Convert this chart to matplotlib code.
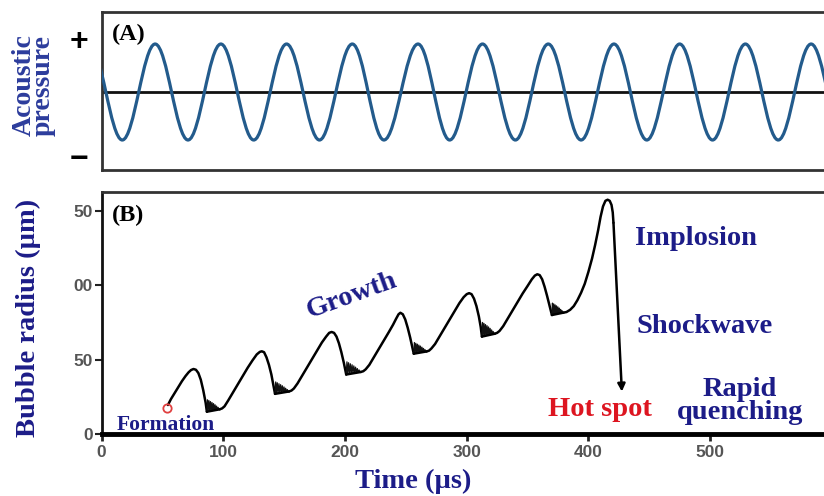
import matplotlib
matplotlib.use("Agg")
import matplotlib.pyplot as plt
from matplotlib.path import Path
from matplotlib.patches import PathPatch

# ---------------------------------------------------------------- data
# (A) acoustic driving pressure: times (µs) of the pressure maxima and minima
pressure_peak_t = [-10, 44, 98, 152, 206, 260, 313, 367, 421, 475, 529, 583]
pressure_trough_t = [17, 71, 125, 179, 232, 286, 340, 394, 448, 502, 556, 610]

# (B) bubble radius (µm) versus time (µs), one list per growth/compression cycle
cycle_t = [
    [54.5, 57, 60, 63, 66, 69, 71.5, 73.5, 75.5, 77.5, 79.5, 81.5, 83.5, 85.5, 86.5],
    [97, 99, 101, 104, 108, 112, 116, 120, 124, 127.5, 130, 131.6, 133.5, 135.5, 137.5, 139.5, 141, 142.5],
    [154, 156, 158, 161, 165, 169, 173, 177, 181, 184.5, 187, 189, 191, 193, 195, 197, 199, 201],
    [213, 215, 217, 220, 224, 228, 232, 236, 239.5, 242, 244, 245.5, 247.5, 249.5, 251.5, 253.5, 255, 256.5],
    [267, 269, 271, 274, 278, 282, 286, 290, 294, 297.5, 300, 302, 304, 306, 308, 310, 311.5, 312.5],
    [323, 325, 327, 330, 334, 338, 342, 346, 350, 353.5, 356, 358, 360, 362, 364, 366, 368, 370],
    [379.5, 382, 385, 388, 391, 394, 397, 400, 403, 405.5, 408, 410, 412, 414, 415.8, 417.5, 419, 420, 420.6],
]
cycle_r = [
    [19.5, 23.5, 27.5, 31.5, 35.5, 39, 41.5, 43, 43.7, 43.2, 41, 36.5, 29.5, 21, 15],
    [16.6, 17.2, 18.6, 22.5, 28, 33.5, 39, 44.5, 49.5, 53.5, 55.2, 55.6, 55, 51.5, 46.5, 40, 33.5, 27],
    [28.6, 29.2, 30.6, 34, 39.5, 45, 50.5, 56, 61.5, 65.5, 68, 68.6, 68, 65.5, 61, 55, 48, 40],
    [41.7, 42.2, 43.5, 46.5, 52, 57.5, 63, 68.5, 73.5, 77.5, 80.5, 81.5, 80.5, 77, 71.5, 65, 59.5, 54],
    [55.5, 56, 57.5, 60.5, 66, 71.5, 77, 82.5, 88, 92, 94, 94.7, 94, 91, 86, 79, 72, 65.5],
    [67.4, 68, 69.3, 72.5, 78, 83.5, 89, 94.5, 99.5, 104, 106.5, 107.4, 106.8, 104, 99, 93, 86.5, 80],
    [81.6, 82, 83.5, 86, 90, 95, 101, 109, 118, 127, 137, 146, 153, 156.8, 157.5, 156.8, 154, 149, 142],
]

# after-bounce ringing at each minimum: start time, floor radius, duration, height
ring_start_t = [86.5, 142.5, 201, 256.5, 312.5, 370]
ring_floor_r = [15, 27, 40, 54, 65.5, 80]
ring_width = [10.5, 11.5, 12, 10.5, 10.5, 9.5]
ring_height = [8, 8, 8.5, 7.5, 9.5, 8]
# shape of the decaying ringing (fraction of duration, fraction of height)
ring_shape_t = [0, .05, .10, .16, .22, .28, .34, .40, .46, .52, .58, .64, .70, .76, .82, .88, .94, 1.0]
ring_shape_r = [0, 1, .03, .93, .06, .85, .09, .77, .11, .68, .13, .58, .15, .47, .17, .36, .19, .2]

# final collapse: end of the trace (µs, µm)
collapse_t = 427.5
collapse_r = 28.5

# bubble nucleation point
formation_t = 53.5
formation_r = 17.3

x_ticks = [0, 100, 200, 300, 400, 500]
y_ticks = [0, 50, 100, 150]
y_tick_labels = ["0", "50", "00", "50"]

# ---------------------------------------------------------------- figure
W, H = 824, 496
fig = plt.figure(figsize=(W / 100, H / 100), dpi=100)
fig.patch.set_facecolor("white")

SERIF = ["Liberation Serif", "DejaVu Serif"]
SANS = ["Liberation Sans", "DejaVu Sans"]
NAVY = "#1c1c88"
BLUE_LABEL = "#2c3c9c"
WAVE = "#235b8c"


def fx(x):
    return x / W


def fy(y):
    return 1 - y / H


x0 = 101.6
px_per_us = 1.217
xmax = 600
ax_w = xmax * px_per_us

# panel A
axA = fig.add_axes([fx(x0), fy(170), ax_w / W, (170 - 12) / H])
axA.set_xlim(0, xmax)
axA.set_ylim(-1.625, 1.667)
axA.set_xticks([])
axA.set_yticks([])
for s in axA.spines.values():
    s.set_linewidth(2.0)
    s.set_color("#333333")
axA.axhline(0, color="#111111", lw=2.0, zorder=2)

ext = sorted([(t, 1.0) for t in pressure_peak_t] + [(t, -1.0) for t in pressure_trough_t])
k = 0.364
verts = [ext[0]]
codes = [Path.MOVETO]
for (ta, va), (tb, vb) in zip(ext[:-1], ext[1:]):
    d = tb - ta
    verts += [(ta + k * d, va), (tb - k * d, vb), (tb, vb)]
    codes += [Path.CURVE4] * 3
axA.add_patch(PathPatch(Path(verts, codes), fill=False, edgecolor=WAVE, lw=2.3,
                        zorder=3, capstyle="round"))

# panel B
axB = fig.add_axes([fx(x0), fy(434), ax_w / W, (434 - 192) / H])
axB.set_xlim(0, xmax)
axB.set_ylim(0, 162.7)

for i in range(len(cycle_t)):
    axB.plot(cycle_t[i], cycle_r[i], color="black", lw=1.8,
             solid_joinstyle="round", solid_capstyle="round", zorder=3)
for i in range(len(ring_start_t)):
    rt = [ring_start_t[i] + f * ring_width[i] for f in ring_shape_t]
    rr = [ring_floor_r[i] + f * ring_height[i] for f in ring_shape_r]
    axB.plot(rt, rr, color="#111111", lw=0.9, zorder=3)
    # smooth floor underneath the ringing
    axB.plot([rt[0], rt[-1]], [rr[0], cycle_r[i + 1][0]], color="black", lw=1.8,
             solid_capstyle="round", zorder=3)

axB.annotate("", xy=(collapse_t, collapse_r), xytext=(cycle_t[-1][-1], cycle_r[-1][-1]),
             arrowprops=dict(arrowstyle="-|>", lw=1.8, color="black",
                             mutation_scale=11, shrinkA=0, shrinkB=0), zorder=3)
axB.plot([formation_t], [formation_r], marker="o", ms=6, mfc="none", mec="#e04040",
         mew=1.3, zorder=4)

axB.set_xticks(x_ticks)
axB.set_yticks(y_ticks)
axB.set_yticklabels(y_tick_labels)
for lab in axB.get_xticklabels() + axB.get_yticklabels():
    lab.set_fontfamily(SANS)
    lab.set_fontweight("bold")
    lab.set_fontsize(12.5)
    lab.set_color("#555555")
axB.tick_params(axis="y", direction="out", length=5, width=1.5, pad=1.5, color="#222222")
axB.tick_params(axis="x", direction="out", length=5, width=2, pad=3, color="#222222")
axB.spines["left"].set_linewidth(2.0)
axB.spines["left"].set_color("#111111")
axB.spines["bottom"].set_linewidth(3.5)
axB.spines["bottom"].set_color("black")
axB.spines["top"].set_linewidth(2.0)
axB.spines["top"].set_color("#333333")
axB.spines["right"].set_visible(False)


def label(x, y, s, size, color=NAVY, ha="center", va="baseline", rot=0, weight="bold", **kw):
    fig.text(fx(x), fy(y), s, fontsize=size, color=color, ha=ha, va=va,
             rotation=rot, family=SERIF, fontweight=weight, rotation_mode="anchor", **kw)


label(128.5, 34, "(A)", 17.5, color="black", va="center")
label(128.5, 215, "(B)", 17.5, color="black", va="center")
# two-line title of panel A, set as one rotated block
label(34, 85, "Acoustic\npressure", 20, color=BLUE_LABEL, va="center", rot=90,
      linespacing=0.66, multialignment="center")
fig.text(fx(79), fy(42), "+", fontsize=23, fontweight="bold", color="black",
         ha="center", va="center", family=SANS)
fig.text(fx(79), fy(160), "\u2212", fontsize=23, fontweight="bold", color="black",
         ha="center", va="center", family=SANS)

label(28, 318, "Bubble radius (\u00b5m)", 20.5, va="center", rot=90)
label(413, 488, "Time (\u00b5s)", 20.5)
label(352, 296, "Growth", 20.5, va="center", rot=20)
label(696, 245, "Implosion", 20.5)
label(705, 333, "Shockwave", 20.5)
label(740, 396, "Rapid", 20.5)
label(740, 419, "quenching", 20.5)
label(600, 416, "Hot spot", 20.5, color="#dd1520")
label(166, 430, "Formation", 15.5)

fig.savefig("out.png", dpi=100, facecolor="white")
